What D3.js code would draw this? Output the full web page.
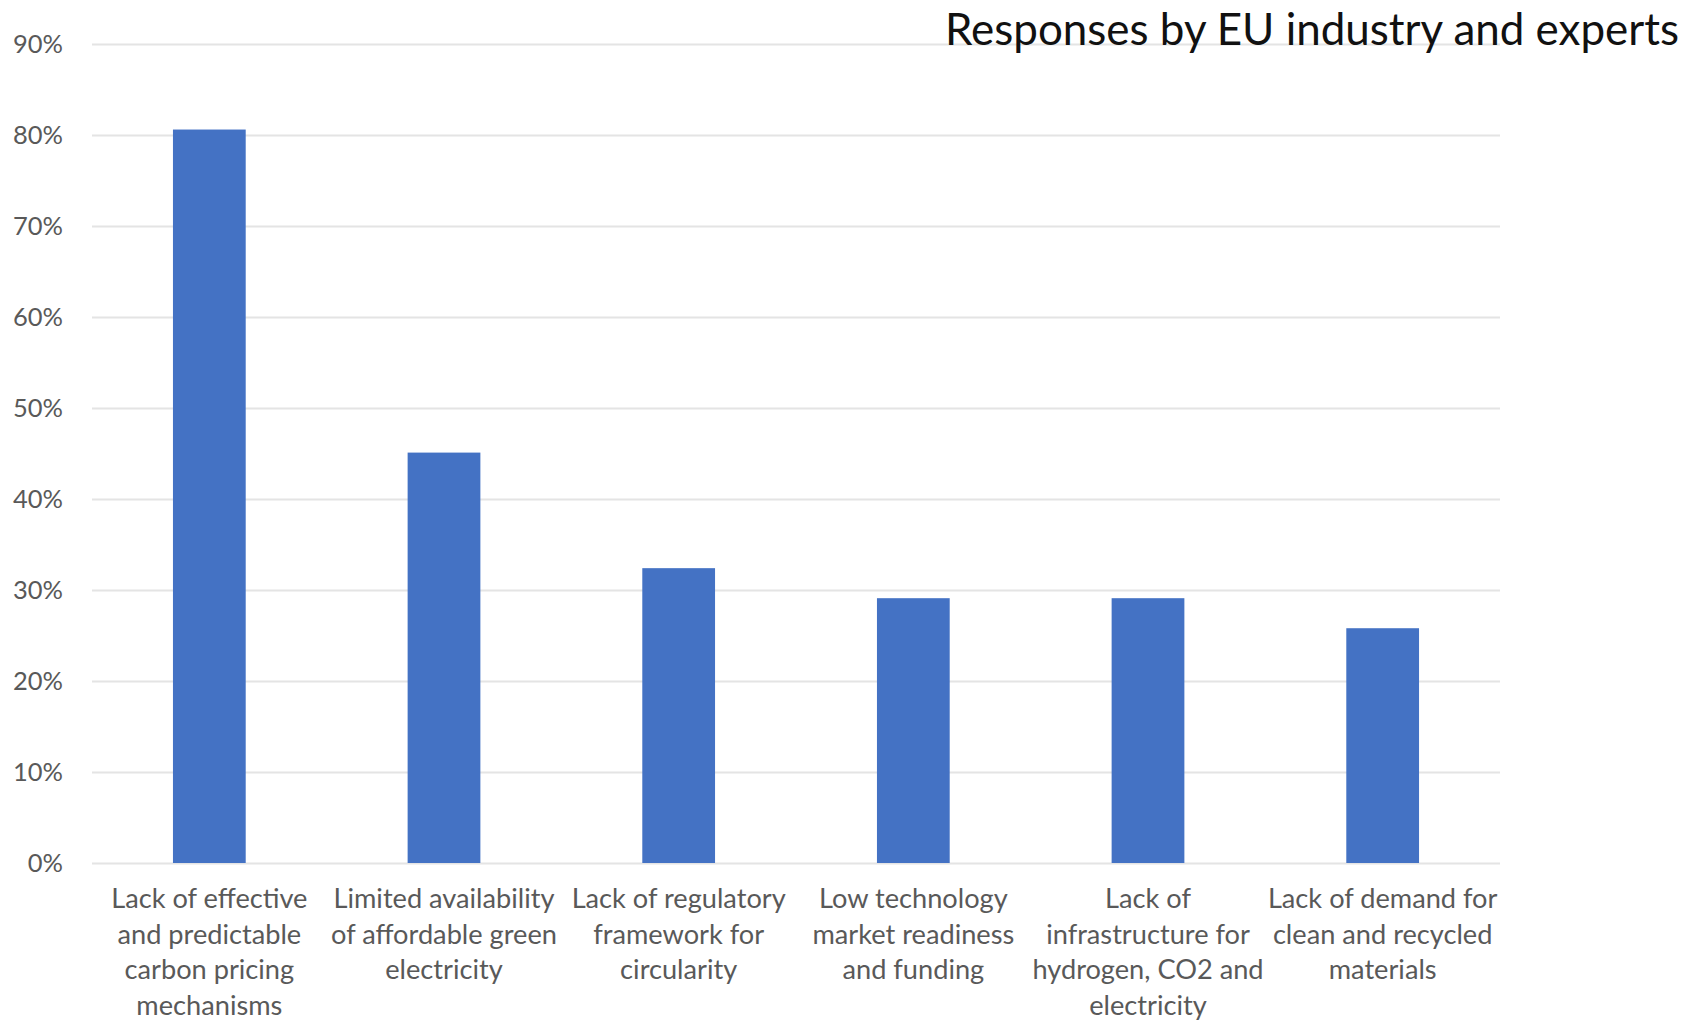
<!DOCTYPE html>
<html>
<head>
<meta charset="utf-8">
<script src="https://cdn.jsdelivr.net/npm/d3@7"></script>
<style>
  html, body { margin: 0; padding: 0; background: #fff; }
  svg { display: block; font-family: Lato, "Open Sans", sans-serif; }
</style>
</head>
<body>
<div id="chart"></div>
<script>
// categories, as the picture wraps them
var categories = [
	"Lack of effective and predictable carbon pricing mechanisms",
	"Limited availability of affordable green electricity",
	"Lack of regulatory framework for circularity",
	"Low technology market readiness and funding",
	"Lack of infrastructure for hydrogen, CO2 and electricity",
	"Lack of demand for clean and recycled materials"
];
var labelLines = [
	["Lack of effective", "and predictable", "carbon pricing", "mechanisms"],
	["Limited availability", "of affordable green", "electricity"],
	["Lack of regulatory", "framework for", "circularity"],
	["Low technology", "market readiness", "and funding"],
	["Lack of", "infrastructure for", "hydrogen, CO2 and", "electricity"],
	["Lack of demand for", "clean and recycled", "materials"]
];
var shares = [80.6, 45.1, 32.4, 29.1, 29.1, 25.8];
var yTicks = [0, 10, 20, 30, 40, 50, 60, 70, 80, 90];
var title = "Responses by EU industry and experts";

// dimensions and margins
var W = 1688, H = 1021;
var margin = {top: 44, right: 188, bottom: 158, left: 92},
    width = W - margin.left - margin.right,
    height = H - margin.top - margin.bottom;

var svg = d3.select("#chart")
  .append("svg")
    .attr("width", W)
    .attr("height", H);

var g = svg.append("g")
    .attr("transform", "translate(" + margin.left + "," + margin.top + ")");

// scales
var x = d3.scaleBand()
    .domain(categories)
    .range([0, width])
    .paddingInner(0.69)
    .paddingOuter(0.345);

var y = d3.scaleLinear()
    .domain([0, 90])
    .range([height, 0]);

// shrink or grow a text's font until it is as wide as in the picture
function fitWidth(sel, target) {
	var node = sel.node();
	var fs = parseFloat(sel.attr("font-size"));
	var w = node.getComputedTextLength();
	sel.attr("font-size", (fs * target / w).toFixed(2));
}

// y axis with gridlines
var yAxis = g.append("g")
    .call(d3.axisLeft(y)
      .tickValues(yTicks)
      .tickSize(-width)
      .tickPadding(29)
      .tickFormat(function(d) { return d + "%"; }));
yAxis.select(".domain").remove();
yAxis.selectAll(".tick line")
    .attr("stroke", "#e4e4e4")
    .attr("stroke-width", 2);
yAxis.selectAll(".tick text")
    .attr("fill", "#595959")
    .attr("font-size", 26)
    .attr("font-family", "Lato, 'Open Sans', sans-serif");
var probe = yAxis.selectAll(".tick text").filter(function(d) { return d === 90; });
fitWidth(probe, 50);
yAxis.selectAll(".tick text").attr("font-size", probe.attr("font-size"));

// bars
g.selectAll("rect.bar")
    .data(shares)
    .enter()
    .append("rect")
      .attr("class", "bar")
      .attr("x", function(d, i) { return x(categories[i]); })
      .attr("y", function(d) { return y(d); })
      .attr("width", x.bandwidth())
      .attr("height", function(d) { return height - y(d); })
      .style("fill", "#4472c4");

// x axis: wrapped category labels
var xAxis = g.append("g")
    .attr("transform", "translate(0," + height + ")")
    .call(d3.axisBottom(x).tickSize(0).tickPadding(0));
xAxis.select(".domain").remove();
xAxis.selectAll(".tick text").each(function(d) {
	var t = d3.select(this);
	var lines = labelLines[categories.indexOf(d)];
	t.text(null)
	  .attr("y", 0)
	  .attr("dy", null)
	  .attr("fill", "#595959")
	  .attr("font-size", 26)
	  .attr("font-family", "Lato, 'Open Sans', sans-serif");
	lines.forEach(function(line, k) {
		t.append("tspan")
		  .attr("x", 0)
		  .attr("y", 45 + k * 35.5)
		  .text(line);
	});
});
// size the labels from "Limited availability"
var ref = g.append("text")
    .attr("font-size", 26)
    .attr("font-family", "Lato, 'Open Sans', sans-serif")
    .text("Limited availability");
fitWidth(ref, 221);
xAxis.selectAll(".tick text").attr("font-size", ref.attr("font-size"));
ref.remove();

// title, top right
var tt = svg.append("text")
    .attr("x", 1679)
    .attr("y", 45)
    .attr("text-anchor", "end")
    .attr("font-size", 40)
    .attr("fill", "#111")
    .text(title);
fitWidth(tt, 734);
</script>
</body>
</html>
